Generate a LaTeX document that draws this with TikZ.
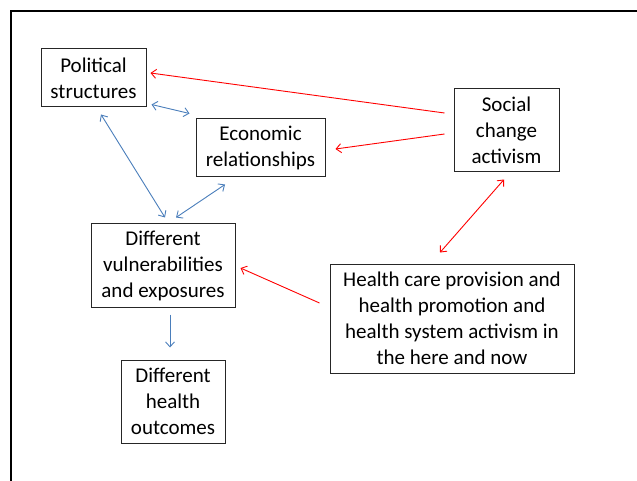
\documentclass[tikz,border=0pt]{standalone}
\usepackage{fontspec}
\setmainfont{Carlito}
\usetikzlibrary{arrows.meta,calc}
\definecolor{linkblue}{HTML}{4A7EBB}
\definecolor{linkred}{HTML}{FF0000}
\tikzset{
  box/.style={draw=black!85, line width=1pt, align=center, inner sep=0pt,
    font=\fontsize{21}{26}\selectfont, text=black},
  tip/.style={-{Straight Barb[length=5pt,width=9pt]}},
  bitip/.style={{Straight Barb[length=5pt,width=9pt]}-{Straight Barb[length=5pt,width=9pt]}},
  bluelink/.style={draw=linkblue, line width=0.9pt},
  redlink/.style={draw=linkred, line width=0.9pt},
}
\begin{document}
\begin{tikzpicture}[x=1pt,y=-1pt]
\useasboundingbox (0,0) rectangle (637,481);
% slide frame
\draw[line width=2.2pt, line cap=rect] (637,10.8) -- (10.8,10.8) -- (10.8,481);

% boxes
\node[box, minimum width=105pt, minimum height=58pt] (pol) at (93.5,78) {Political\\structures};
\node[box, minimum width=129pt, minimum height=58pt] (eco) at (260.5,148) {Economic\\relationships};
\node[box, minimum width=105pt, minimum height=83pt] (soc) at (506.5,130.5) {Social\\change\\activism};
\node[box, minimum width=244pt, minimum height=109pt] (hcp) at (452,318.5) {Health care provision and\\health promotion and\\health system activism in\\the here and now};
\node[box, minimum width=144pt, minimum height=83pt] (vul) at (163,265.5) {Different\\vulnerabilities\\and exposures};
\node[box, minimum width=104pt, minimum height=83pt] (out) at (173,401.5) {Different\\health\\outcomes};

% red links from activism
\draw[redlink, tip] ($(soc.west)+(-9,-17.5)$) -- ($(pol.east)+(4,-5)$);
\draw[redlink, tip] ($(soc.west)+(-9,3.5)$) -- ($(eco.east)+(10,1)$);
\draw[redlink, bitip] ($(soc.south)+(-2.5,7)$) -- ($(hcp.north)+(-12,-11)$);
\draw[redlink, tip] ($(hcp.west)+(-10,-15.5)$) -- ($(vul.east)+(5,2.5)$);

% blue links among structures
\draw[bluelink, bitip] ($(pol.south east)+(5,-3)$) -- ($(eco.north west)+(-6,-5)$);
\draw[bluelink, bitip] ($(pol.south)+(7.5,7)$) -- ($(vul.north)+(2,-6)$);
\draw[bluelink, bitip] ($(eco.south)+(-35.5,7)$) -- ($(vul.north)+(13,-6)$);
\draw[bluelink, tip] ($(vul.south)+(7,7)$) -- ($(out.north)+(-3,-12)$);
\end{tikzpicture}
\end{document}
